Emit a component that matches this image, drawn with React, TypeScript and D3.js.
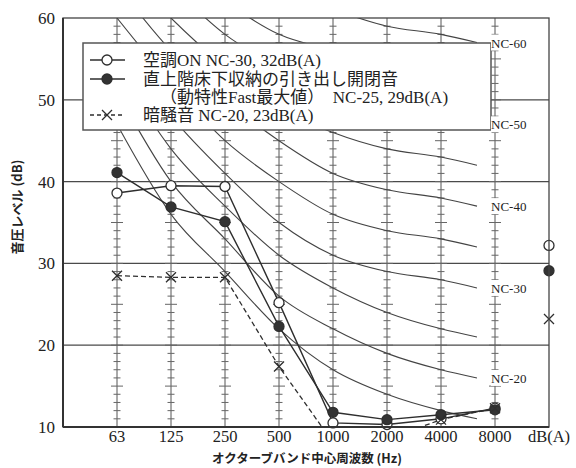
import React from "react";
import * as d3 from "d3";

const bands = ["63", "125", "250", "500", "1000", "2000", "4000", "8000"];
const xTickLabels = [...bands, "dB(A)"];
const yTicks = [10, 20, 30, 40, 50, 60];
const gridLevels = [20, 30, 40, 50];

const ncLevels = [15, 20, 25, 30, 35, 40, 45, 50, 55, 60];
const ncValues = [
  [47, 36, 29, 22, 17, 14, 12, 11],
  [51, 40, 33, 26, 22, 19, 17, 16],
  [54, 44, 37, 31, 27, 24, 22, 21],
  [57, 48, 41, 35, 31, 29, 28, 27],
  [60, 52, 45, 40, 36, 34, 33, 32],
  [64, 56, 50, 45, 41, 39, 38, 37],
  [67, 60, 54, 49, 46, 44, 43, 42],
  [71, 64, 58, 54, 51, 49, 48, 47],
  [74, 67, 62, 58, 56, 54, 53, 52],
  [77, 71, 67, 63, 61, 59, 58, 57],
];
const ncLabeled = [20, 30, 40, 50, 60];

const acOn = [38.6, 39.5, 39.4, 25.2, 10.5, 10.3, 11.0, 12.3];
const drawer = [41.1, 36.9, 35.1, 22.3, 11.8, 10.9, 11.5, 12.1];
const background = [28.5, 28.3, 28.3, 17.4, 8.1, 8.5, 10.9, 12.3];
const acOnDBA = 32.2;
const drawerDBA = 29.1;
const backgroundDBA = 23.2;

const legendLines = [
  "空調ON NC-30, 32dB(A)",
  "直上階床下収納の引き出し開閉音",
  "（動特性Fast最大値）  NC-25, 29dB(A)",
  "暗騒音 NC-20, 23dB(A)",
];

const W = 576;
const H = 468;
const SERIF = "'Liberation Serif', 'Noto Sans CJK JP', serif";
const GOTHIC = "'Noto Sans CJK JP', 'DejaVu Sans', sans-serif";
const INK = "#2e2e2e";
const GRID = "#4a4a4a";

export default function App() {
  const x = d3.scaleLinear().domain([-1, 8]).range([63, 549]);
  const y = d3.scaleLinear().domain([10, 60]).range([427, 18]);
  const left = x(-1), right = x(8), top = y(60), bottom = y(10);

  const ncLine = d3
    .line<[number, number]>()
    .x((d) => d[0])
    .y((d) => y(d[1]))
    .curve(d3.curveMonotoneX);
  const ncEndX = x(7) - 18;

  const dataLine = d3
    .line<number>()
    .x((_, i) => x(i))
    .y((d) => y(d));

  const rulerTicks: number[] = d3.range(11, 60);

  const circle = (cx: number, cy: number, filled: boolean, key: string) => (
    <circle key={key} cx={cx} cy={cy} r={5} fill={filled ? "#333" : "#fff"} stroke={INK} strokeWidth={1.3} />
  );
  const cross = (cx: number, cy: number, key: string) => (
    <path key={key} d={`M${cx - 5},${cy - 5}L${cx + 5},${cy + 5}M${cx - 5},${cy + 5}L${cx + 5},${cy - 5}`} stroke={INK} strokeWidth={1.3} fill="none" />
  );

  const legX = 83, legY = 43, legW = 408, legH = 87;
  const rowY = [60, 79, 97, 115];

  return (
    <svg width={W} height={H} style={{ display: "block", position: "absolute", left: 0, top: 0, background: "#fff" }}>
      <defs>
        <clipPath id="plot">
          <rect x={left} y={top} width={right - left} height={bottom - top} />
        </clipPath>
      </defs>
      <rect x={0} y={0} width={W} height={H} fill="#fff" />

      {/* horizontal grid */}
      {gridLevels.map((v) => (
        <line key={"g" + v} x1={left} x2={right} y1={y(v)} y2={y(v)} stroke={GRID} strokeWidth={1.3} />
      ))}

      {/* ruler columns */}
      {bands.map((b, i) => (
        <g key={"r" + b}>
          <line x1={x(i)} x2={x(i)} y1={top} y2={bottom} stroke="#555" strokeWidth={1} />
          {rulerTicks.map((v) => {
            const hw = v % 5 === 0 ? 6 : 3.5;
            return <line key={v} x1={x(i) - hw} x2={x(i) + hw} y1={y(v)} y2={y(v)} stroke="#666" strokeWidth={1} />;
          })}
        </g>
      ))}

      {/* NC curves and data lines */}
      <g clipPath="url(#plot)">
        {ncLevels.map((lv, k) => {
          const pts: [number, number][] = ncValues[k].map((v, i) => [i < 7 ? x(i) : ncEndX, v]);
          return <path key={"nc" + lv} d={ncLine(pts) || ""} fill="none" stroke="#444" strokeWidth={1.1} />;
        })}
        <path d={dataLine(acOn) || ""} fill="none" stroke={INK} strokeWidth={1.4} />
        <path d={dataLine(drawer) || ""} fill="none" stroke={INK} strokeWidth={1.4} />
        <path d={dataLine(background) || ""} fill="none" stroke={INK} strokeWidth={1.3} strokeDasharray="5,3" />
      </g>

      {/* markers */}
      {acOn.map((v, i) => (v >= 10 ? circle(x(i), y(v), false, "o" + i) : null))}
      {drawer.map((v, i) => (v >= 10 ? circle(x(i), y(v), true, "f" + i) : null))}
      {background.map((v, i) => (v >= 10 ? cross(x(i), y(v), "x" + i) : null))}

      {/* legend */}
      <rect x={legX} y={legY} width={legW} height={legH} fill="#fff" stroke="#555" strokeWidth={1.5} />
      <line x1={90} x2={125} y1={rowY[0]} y2={rowY[0]} stroke={INK} strokeWidth={1.4} />
      {circle(107, rowY[0], false, "lo")}
      <line x1={90} x2={125} y1={rowY[1]} y2={rowY[1]} stroke={INK} strokeWidth={1.4} />
      {circle(107, rowY[1], true, "lf")}
      <line x1={90} x2={125} y1={rowY[3]} y2={rowY[3]} stroke={INK} strokeWidth={1.3} strokeDasharray="4,3" />
      {cross(107, rowY[3], "lx")}
      {legendLines.map((t, i) => (
        <text key={"lt" + i} x={i === 2 ? 160 : 143} y={rowY[i] + 6} fontFamily={SERIF} fontSize={17} fill="#222" style={{ whiteSpace: "pre" }}>
          {t}
        </text>
      ))}

      {/* NC labels */}
      {ncLevels.map((lv, k) =>
        ncLabeled.includes(lv) ? (
          <g key={"ncl" + lv}>
            <rect x={x(7) - 4} y={y(ncValues[k][7]) - 8} width={40} height={16} fill="#fff" />
            <text x={x(7) - 4} y={y(ncValues[k][7]) + 5} fontFamily={SERIF} fontSize={13} fill="#222">
              {"NC-" + lv}
            </text>
          </g>
        ) : null
      )}

      {/* dB(A) markers */}
      {circle(x(8), y(acOnDBA), false, "ao")}
      {circle(x(8), y(drawerDBA), true, "af")}
      {cross(x(8), y(backgroundDBA), "ax")}

      {/* frame */}
      <rect x={left} y={top} width={right - left} height={bottom - top} fill="none" stroke="#444" strokeWidth={1.3} />
      <line x1={left} x2={right} y1={bottom} y2={bottom} stroke="#333" strokeWidth={2} />
      <line x1={left} x2={left} y1={top} y2={bottom} stroke="#333" strokeWidth={2} />

      {/* y ticks */}
      {yTicks.map((v) => (
        <text key={"yt" + v} x={55} y={y(v) + 6} textAnchor="end" fontFamily={SERIF} fontSize={17} fill="#222">
          {v}
        </text>
      ))}
      {/* x ticks */}
      {xTickLabels.map((t, i) => (
        <text key={"xt" + t} x={x(i)} y={442} textAnchor="middle" fontFamily={SERIF} fontSize={16.5} fill="#222">
          {t}
        </text>
      ))}

      {/* axis titles */}
      <text x={307} y={463} textAnchor="middle" fontFamily={GOTHIC} fontWeight="bold" fontSize={12.5} fill="#222">
        オクターブバンド中心周波数 (Hz)
      </text>
      <text transform={`translate(22,207) rotate(-90)`} textAnchor="middle" fontFamily={GOTHIC} fontWeight="bold" fontSize={13} fill="#222">
        音圧レベル (dB)
      </text>
    </svg>
  );
}
